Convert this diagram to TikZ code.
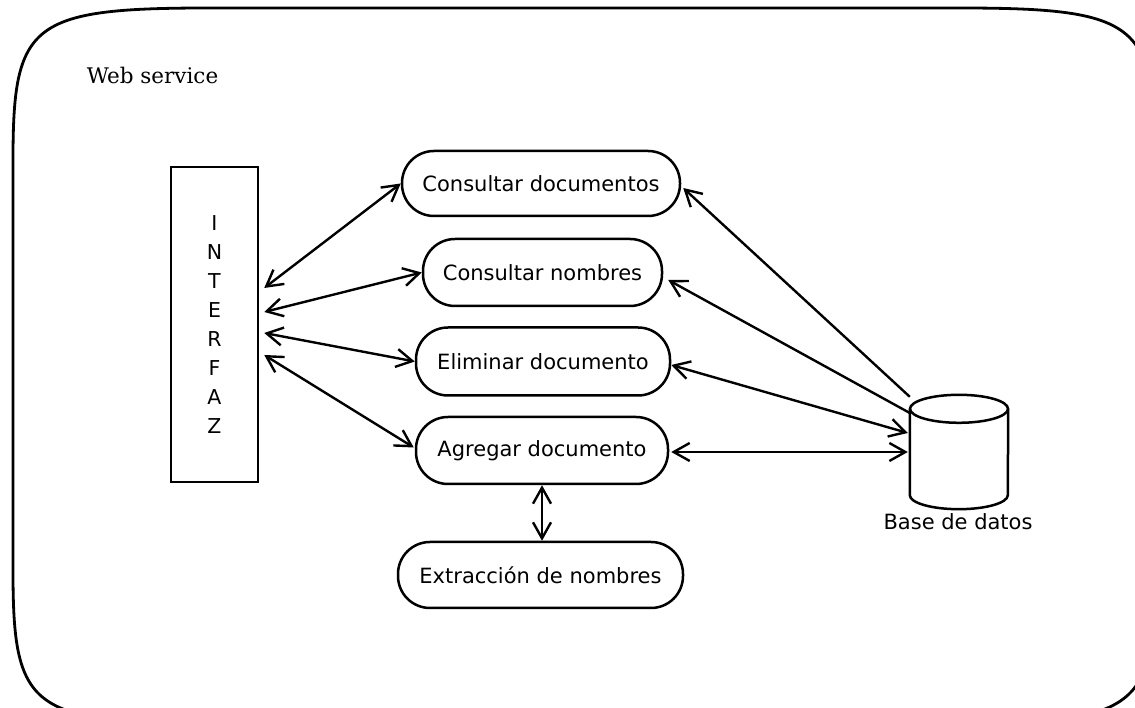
\documentclass[tikz,border=0pt]{standalone}
\usepackage{fontspec}
\setmainfont{DejaVu Sans}
\newfontfamily\wsfont{DejaVu Serif}
\usetikzlibrary{arrows.meta,calc}
\begin{document}
\begin{tikzpicture}[x=1pt,y=1pt,
  box/.style={draw, line width=2.5pt, inner sep=0pt, font=\fontsize{21}{25}\selectfont},
  stadium/.style={box, rounded corners=32pt},
  tipv/.tip={Straight Barb[length=16pt,width=18pt]},
  conn/.style={line width=2.4pt, tipv-tipv},
  oneway/.style={line width=2.4pt, -tipv}]
\useasboundingbox (0,0) rectangle (1135,708);
\clip (0,0) rectangle (1135,708);
% outer web service frame
\draw[line width=2.8pt] (13,548) .. controls (13,685) and (30,700) .. (210,700)
  -- (958,700) .. controls (1138,700) and (1155,685) .. (1155,548)
  -- (1155,137) .. controls (1155,0) and (1138,-15) .. (958,-15)
  -- (210,-15) .. controls (30,-15) and (13,0) .. (13,137) -- cycle;
\node[font=\wsfont\fontsize{21.5}{25}\selectfont] (ws) at (152.5,633) {Web service};
% interface
\node[box, minimum width=87pt, minimum height=315pt, align=center,
  font=\fontsize{20.5}{29}\selectfont] (interfaz) at (214.5,383.5)
  {I\\N\\T\\E\\R\\F\\A\\Z};
% operations
\node[stadium, minimum width=278pt, minimum height=65pt] (c1) at (541,524.5) {Consultar documentos};
\node[stadium, minimum width=239pt, minimum height=67pt] (c2) at (542.5,435.5) {Consultar nombres};
\node[stadium, minimum width=254pt, minimum height=68pt] (c3) at (543,346.5) {Eliminar documento};
\node[stadium, minimum width=252pt, minimum height=67pt] (c4) at (542,257.5) {Agregar documento};
\node[stadium, minimum width=285pt, minimum height=66pt] (c5) at (540.5,133) {Extracción de nombres};
% database
\node[minimum width=98pt, minimum height=114pt, inner sep=0pt] (db) at (959,256) {};
\draw[line width=2.5pt] ($(db.north)+(0,-14)$) ellipse [x radius=49pt, y radius=14pt];
\draw[line width=2.5pt] ($(db.north west)+(0,-14)$) -- ($(db.south west)+(0,14)$)
  arc[start angle=180, end angle=360, x radius=49pt, y radius=14pt]
  -- ($(db.north east)+(0,-14)$);
\node[font=\fontsize{21}{25}\selectfont] (dblabel) at (958,186) {Base de datos};
% connectors: interface to operations
\draw[conn] ($(interfaz.east)+(5,36.5)$) -- (c1.west);
\draw[conn] ($(interfaz.east)+(5,12.5)$) -- (c2.west);
\draw[conn] ($(interfaz.east)+(5,-8.5)$) -- (c3.west);
\draw[conn] ($(interfaz.east)+(5,-30.5)$) -- ($(c4.west)+(-1,3)$);
% connectors: database to operations
\draw[oneway] ($(db.north west)+(0,-2)$) -- ($(c1.east)+(2,-4.5)$);
\draw[oneway] ($(db.west)+(0,39)$) -- ($(c2.east)+(5,-7.5)$);
\draw[conn] ($(db.west)+(-2,19)$) -- ($(c3.east)+(0,-3.5)$);
\draw[conn] ($(db.west)+(-2,0)$) -- ($(c4.east)+(2,-1.5)$);
% add document to name extraction
\draw[conn] (c4.south) -- (c4.south |- c5.north);
\end{tikzpicture}
\end{document}
